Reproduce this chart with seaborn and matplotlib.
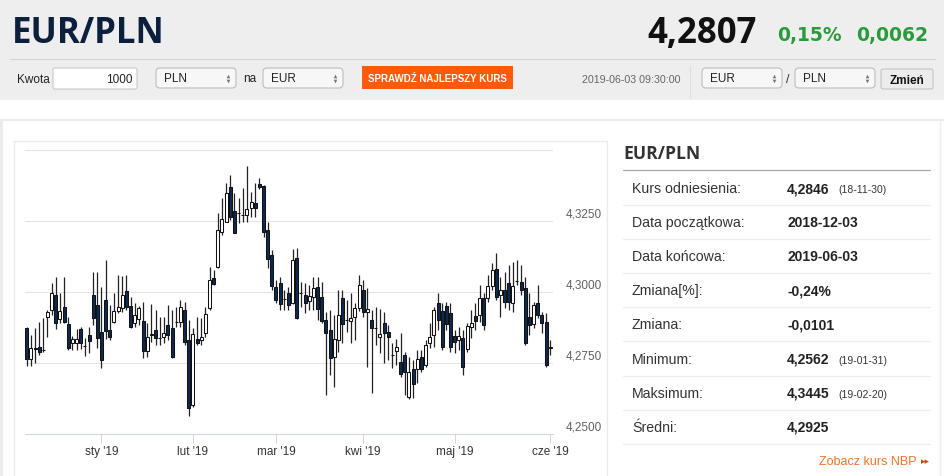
import numpy as np
import pandas as pd
import matplotlib
matplotlib.use("Agg")
import matplotlib.pyplot as plt
import seaborn as sns
from matplotlib.patches import Rectangle, FancyBboxPatch
from matplotlib.ticker import FixedLocator, FixedFormatter

# ---------------- data ----------------
opens = [4.2873, 4.2764, 4.2803, 4.2806, 4.2796, 4.2912, 4.2937, 4.2989, 4.2905, 4.2947,
         4.2887, 4.2820, 4.2820, 4.2870, 4.2810, 4.2849, 4.2989, 4.2954, 4.2859, 4.2972,
         4.2866, 4.2894, 4.2933, 4.2944, 4.3003, 4.2951, 4.2891, 4.2905, 4.2898, 4.2792,
         4.2848, 4.2866, 4.2838, 4.2841, 4.2884, 4.2873, 4.2894, 4.2894, 4.2937, 4.2831,
         4.2602, 4.2834, 4.2831, 4.2856, 4.2944, 4.3049, 4.3088, 4.3211, 4.3246, 4.3369,
         4.3285, 4.3278, 4.3271, 4.3271, 4.3296, 4.3313, 4.3380, 4.3373, 4.3218, 4.3130,
         4.3017, 4.3032, 4.2975, 4.2996, 4.2961, 4.3120, 4.2996, 4.2989, 4.2968, 4.2982,
         4.3017, 4.2982, 4.2901, 4.2866, 4.2771, 4.2831, 4.2979, 4.2901, 4.2898, 4.2912,
         4.2944, 4.3007, 4.2929, 4.2901, 4.2873, 4.2841, 4.2891, 4.2859, 4.2778, 4.2792,
         4.2753, 4.2778, 4.2630, 4.2729, 4.2729, 4.2771, 4.2743, 4.2820, 4.2848, 4.2961,
         4.2933, 4.2951, 4.2926, 4.2845, 4.2831, 4.2838, 4.2799, 4.2877, 4.2915, 4.2919,
         4.2979, 4.2979, 4.3021, 4.3081, 4.2989, 4.3007, 4.3032, 4.2961, 4.3039, 4.3035,
         4.3014, 4.2912, 4.2887, 4.2961, 4.2919, 4.2894, 4.2803]
closes = [4.2764, 4.2803, 4.2801, 4.2789, 4.2797, 4.2929, 4.2996, 4.2891, 4.2933, 4.2894,
          4.2803, 4.2834, 4.2834, 4.2820, 4.2811, 4.2827, 4.2908, 4.2838, 4.2760, 4.2863,
          4.2841, 4.2933, 4.2947, 4.2989, 4.2947, 4.2877, 4.2919, 4.2944, 4.2792, 4.2841,
          4.2852, 4.2838, 4.2839, 4.2856, 4.2848, 4.2771, 4.2895, 4.2947, 4.2824, 4.2592,
          4.2852, 4.2820, 4.2841, 4.2922, 4.3042, 4.3028, 4.3218, 4.3257, 4.3348, 4.3264,
          4.3208, 4.3277, 4.3272, 4.3292, 4.3317, 4.3296, 4.3369, 4.3211, 4.3116, 4.3021,
          4.2972, 4.2958, 4.2976, 4.2954, 4.3113, 4.2908, 4.2997, 4.2961, 4.2986, 4.3014,
          4.2940, 4.2898, 4.2856, 4.2768, 4.2834, 4.2919, 4.2887, 4.2902, 4.2908, 4.2944,
          4.3025, 4.2929, 4.2940, 4.2873, 4.2874, 4.2852, 4.2856, 4.2841, 4.2779, 4.2806,
          4.2711, 4.2718, 4.2718, 4.2676, 4.2764, 4.2729, 4.2813, 4.2841, 4.2937, 4.2901,
          4.2806, 4.2887, 4.2806, 4.2824, 4.2845, 4.2736, 4.2880, 4.2891, 4.2898, 4.2979,
          4.2884, 4.3021, 4.3077, 4.2982, 4.3007, 4.2965, 4.2965, 4.3021, 4.3040, 4.3007,
          4.2820, 4.2884, 4.2954, 4.2919, 4.2891, 4.2743, 4.2807]
highs = [4.2877, 4.2848, 4.2873, 4.2894, 4.2908, 4.2937, 4.3032, 4.3053, 4.2996, 4.3053,
         4.2912, 4.2845, 4.2870, 4.2877, 4.2838, 4.2877, 4.3070, 4.3070, 4.3017, 4.3113,
         4.2954, 4.2996, 4.3060, 4.3056, 4.3060, 4.2982, 4.2961, 4.2951, 4.2965, 4.2891,
         4.2958, 4.2937, 4.2912, 4.2912, 4.2954, 4.2937, 4.2947, 4.2972, 4.2965, 4.2901,
         4.2873, 4.2912, 4.2908, 4.2947, 4.3088, 4.3077, 4.3278, 4.3331, 4.3384, 4.3412,
         4.3348, 4.3331, 4.3366, 4.3445, 4.3352, 4.3384, 4.3401, 4.3377, 4.3246, 4.3148,
         4.3042, 4.3053, 4.3007, 4.3017, 4.3151, 4.3155, 4.3035, 4.3032, 4.3025, 4.3053,
         4.3053, 4.3035, 4.2929, 4.2937, 4.2919, 4.3007, 4.3007, 4.2972, 4.2996, 4.2961,
         4.3060, 4.3042, 4.3014, 4.2937, 4.2947, 4.2940, 4.2929, 4.2884, 4.2820, 4.2834,
         4.2856, 4.2789, 4.2771, 4.2760, 4.2796, 4.2796, 4.2831, 4.2891, 4.2947, 4.2996,
         4.2961, 4.2965, 4.2961, 4.2866, 4.2877, 4.2866, 4.2891, 4.2937, 4.2961, 4.3025,
         4.2996, 4.3060, 4.3102, 4.3137, 4.3053, 4.3070, 4.3095, 4.3105, 4.3113, 4.3095,
         4.3053, 4.2996, 4.2965, 4.3025, 4.2929, 4.2926, 4.2831]
lows = [4.2739, 4.2739, 4.2750, 4.2778, 4.2789, 4.2841, 4.2919, 4.2870, 4.2891, 4.2891,
        4.2796, 4.2796, 4.2796, 4.2799, 4.2775, 4.2785, 4.2884, 4.2803, 4.2732, 4.2834,
        4.2831, 4.2891, 4.2926, 4.2929, 4.2937, 4.2873, 4.2877, 4.2884, 4.2768, 4.2771,
        4.2824, 4.2813, 4.2813, 4.2820, 4.2831, 4.2768, 4.2877, 4.2877, 4.2813, 4.2562,
        4.2595, 4.2813, 4.2813, 4.2841, 4.2937, 4.3025, 4.3084, 4.3200, 4.3246, 4.3253,
        4.3207, 4.3243, 4.3246, 4.3246, 4.3264, 4.3264, 4.3362, 4.3193, 4.3084, 4.3007,
        4.2961, 4.2937, 4.2937, 4.2937, 4.2958, 4.2905, 4.2947, 4.2926, 4.2937, 4.2937,
        4.2901, 4.2891, 4.2637, 4.2708, 4.2665, 4.2789, 4.2820, 4.2859, 4.2820, 4.2831,
        4.2933, 4.2912, 4.2736, 4.2644, 4.2813, 4.2785, 4.2750, 4.2760, 4.2732, 4.2743,
        4.2701, 4.2637, 4.2623, 4.2627, 4.2680, 4.2718, 4.2736, 4.2803, 4.2806, 4.2866,
        4.2796, 4.2866, 4.2789, 4.2785, 4.2796, 4.2708, 4.2789, 4.2838, 4.2866, 4.2894,
        4.2866, 4.2965, 4.3007, 4.2972, 4.2912, 4.2944, 4.2937, 4.2929, 4.3025, 4.2989,
        4.2813, 4.2848, 4.2873, 4.2908, 4.2856, 4.2736, 4.2778]

start_date = "2018-12-03"
end_date = "2019-06-03"
holidays = ["2018-12-24", "2018-12-25", "2018-12-26", "2019-01-01"]
month_labels = ["sty '19", "lut '19", "mar '19", "kwi '19", "maj '19", "cze '19"]
y_grid = [4.25, 4.275, 4.30, 4.325, 4.35]
y_labels = ["4,2500", "4,2750", "4,3000", "4,3250", ""]

table_labels = ["Kurs odniesienia:", "Data początkowa:", "Data końcowa:", "Zmiana[%]:",
                "Zmiana:", "Minimum:", "Maksimum:", "Średni:"]
table_values = ["4,2846", "2018-12-03", "2019-06-03", "-0,24%", "-0,0101",
                "4,2562", "4,3445", "4,2925"]
table_notes = ["(18-11-30)", "", "", "", "", "(19-01-31)", "(19-02-20)", ""]

# ---------------- figure ----------------
sns.set_theme(style="white")
plt.rcParams['font.family'] = ['Liberation Sans', 'DejaVu Sans']

W, H = 945, 476
fig = plt.figure(figsize=(W / 100, H / 100), dpi=100)
fig.patch.set_facecolor("white")
bg = fig.add_axes([0, 0, 1, 1], zorder=0)
bg.set_xlim(0, W)
bg.set_ylim(H, 0)
bg.axis("off")

# header
bg.add_patch(Rectangle((0, 0), W, 100, color="#eeeeee", lw=0))
bg.plot([10, 935], [58.5, 58.5], color="#d6d6d6", lw=0.8)
bg.text(12, 43, "EUR/PLN", fontsize=25, fontweight="bold", color="#0c1f3d",
        family=["Open Sans", "DejaVu Sans"], va="baseline", ha="left")
bg.text(757, 43, "4,2807", fontsize=25, fontweight="bold", color="#111111",
        family=["Open Sans", "DejaVu Sans"], va="baseline", ha="right")
bg.text(842, 41, "0,15%", fontsize=13.5, fontweight="bold", color="#2a9a3c",
        family=["DejaVu Sans"], va="baseline", ha="right")
bg.text(928, 41, "0,0062", fontsize=13.5, fontweight="bold", color="#2a9a3c",
        family=["DejaVu Sans"], va="baseline", ha="right")

sans = ["Liberation Sans", "DejaVu Sans"]
# row 2 controls
bg.text(17, 83, "Kwota", fontsize=8.5, color="#222222", family=sans, va="baseline")
bg.add_patch(FancyBboxPatch((53, 68), 84, 21, boxstyle="round,pad=0,rounding_size=2",
                            fc="white", ec="#c8c8c8", lw=0.8))
bg.text(133, 83, "1000", fontsize=8.5, color="#222222", family=sans, va="baseline", ha="right")


def select(x0, x1, label):
    bg.add_patch(FancyBboxPatch((x0, 68), x1 - x0, 20, boxstyle="round,pad=0,rounding_size=4",
                                fc="#f7f7f7", ec="#bdbdbd", lw=0.8))
    bg.text(x0 + 8, 82, label, fontsize=8.5, color="#222222", family=sans, va="baseline")
    bg.plot([x1 - 8], [75.5], marker="^", ms=2.6, color="#777777", mec="none")
    bg.plot([x1 - 8], [80.5], marker="v", ms=2.6, color="#777777", mec="none")


select(156, 236, "PLN")
bg.text(243, 82, "na", fontsize=8.5, color="#222222", family=sans, va="baseline")
select(263, 343, "EUR")
bg.add_patch(Rectangle((362, 66), 151, 23, color="#ff5a0a", lw=0))
bg.text(437.5, 81.5, "SPRAWDŹ NAJLEPSZY KURS", fontsize=7, fontweight="bold", color="white",
        family=sans, va="baseline", ha="center")
bg.text(680, 83, "2019-06-03 09:30:00", fontsize=7.7, color="#666666", family=sans,
        va="baseline", ha="right")
bg.plot([690, 690], [66, 97], color="#dddddd", lw=0.8)
select(702, 782, "EUR")
bg.text(786, 83, "/", fontsize=9, color="#333333", va="baseline")
select(795, 875, "PLN")
bg.add_patch(FancyBboxPatch((881, 69), 52, 20, boxstyle="round,pad=0,rounding_size=2",
                            fc="#ececec", ec="#c4c4c4", lw=0.8))
bg.text(907, 83.5, "Zmień", fontsize=8.5, fontweight="bold", color="#111111", family=sans,
        va="baseline", ha="center")

# content boxes
bg.add_patch(Rectangle((0, 118.5), W, 2.5, color="#ebebeb", lw=0))
bg.add_patch(Rectangle((0, 118.5), 2.5, H, color="#ebebeb", lw=0))
bg.plot([940, 940], [120, H], color="#efefef", lw=1)
bg.add_patch(Rectangle((14, 141), 593, 400, fill=False, ec="#ebebeb", lw=1))

# right panel
bg.text(623, 159, "EUR/PLN", fontsize=12.6, fontweight="bold", color="#333333",
        family=["Open Sans", "DejaVu Sans"], va="baseline")
bg.plot([623, 930], [169.5, 169.5], color="#a8a8a8", lw=0.9)
row_h = 34.1
for i, (lab, val, note) in enumerate(zip(table_labels, table_values, table_notes)):
    base = 193 + i * row_h
    bg.text(632, base, lab, fontsize=10.2, color="#333333", va="baseline")
    bg.text(787, base, val, fontsize=10, fontweight="bold", color="#222222", va="baseline")
    if note:
        bg.text(838, base, note, fontsize=7.5, color="#333333", va="baseline")
    bg.plot([623, 930], [base + 12, base + 12], color="#eeeeee", lw=0.9)
bg.text(917, 465, "Zobacz kurs NBP", fontsize=9, color="#f07428", va="baseline", ha="right")
bg.text(930, 464, "▸▸", fontsize=6.5, color="#c2501a", family=["DejaVu Sans"],
        va="baseline", ha="right")

# ---------------- candlestick chart ----------------
dates = pd.bdate_range(start_date, end_date)
dates = dates[~dates.isin(pd.to_datetime(holidays))]
df = pd.DataFrame({"date": dates, "open": opens, "high": highs, "low": lows, "close": closes})
df["x"] = np.arange(len(df))
df["up"] = df["close"] >= df["open"]
df["body_lo"] = df[["open", "close"]].min(axis=1)
df["body_h"] = (df["close"] - df["open"]).abs()

ax = fig.add_axes([25 / W, (H - 434) / H, (553 - 25) / W, (434 - 150) / H], zorder=2)
ax.set_facecolor("none")
ax.vlines(df["x"], df["low"], df["high"], color="#222222", lw=0.9, zorder=2)
ax.bar(df["x"], df["body_h"], bottom=df["body_lo"], width=0.72,
       color=np.where(df["up"], "white", "#0d2a50"), edgecolor="#111111",
       linewidth=0.75, zorder=3)

ax.set_xlim(-0.41, len(df) - 0.33)
ax.set_ylim(y_grid[0], y_grid[-1])

# first trading day of each new month (the opening month has no tick)
month_start = df.groupby(df["date"].dt.to_period("M"))["x"].min().values[1:]
ax.xaxis.set_major_locator(FixedLocator(month_start))
ax.xaxis.set_major_formatter(FixedFormatter(month_labels))
ax.tick_params(axis="x", bottom=True, length=6.5, width=0.72, color="#ccd6eb",
               labelsize=8.5, labelcolor="#333333", pad=2)

ax.yaxis.set_major_locator(FixedLocator(y_grid))
ax.yaxis.set_major_formatter(FixedFormatter(y_labels))
ax.tick_params(axis="y", left=False, right=False, labelleft=False, labelright=True,
               labelsize=8.5, labelcolor="#606060", pad=3)
for lbl in ax.get_yticklabels():
    lbl.set_va("bottom")
ax.yaxis.grid(True, color="#e3e3e3", lw=0.75)
ax.xaxis.grid(False)
ax.set_axisbelow(True)
sns.despine(ax=ax, left=True, right=True, top=True)
ax.spines["bottom"].set_color("#ccd6eb")
ax.spines["bottom"].set_linewidth(0.75)

fig.savefig("out.png", dpi=100)
